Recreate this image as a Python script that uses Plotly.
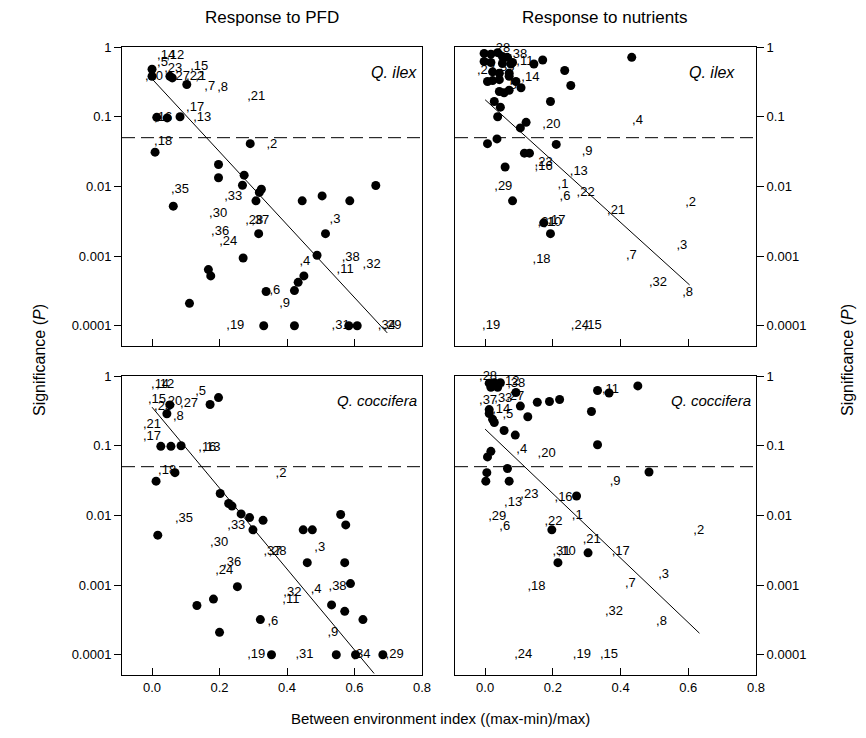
import plotly.graph_objects as go

# ---------------- data ----------------
# Panel 1: Response to PFD, Q. ilex
p1_dot_x = [0.0, 0.0, 0.053, 0.06, 0.103, 0.014, 0.045, 0.083, 0.009, 0.291, 0.197, 0.197, 0.273, 0.268, 0.324,
            0.318, 0.308, 0.063, 0.316, 0.27, 0.167, 0.174, 0.111, 0.338, 0.331, 0.663, 0.445, 0.504, 0.586, 0.514,
            0.489, 0.45, 0.433, 0.422, 0.422, 0.583, 0.608]
p1_dot_p = [0.48, 0.38, 0.38, 0.36, 0.29, 0.098, 0.096, 0.1, 0.031, 0.041, 0.0206, 0.0133, 0.0145, 0.0104, 0.0091,
            0.0082, 0.0062, 0.0052, 0.0021, 0.00094, 0.00064, 0.00052, 0.00021, 0.00031, 0.0001, 0.0103, 0.0062,
            0.0073, 0.0062, 0.0021, 0.00103, 0.00052, 0.00042, 0.00032, 0.0001, 0.0001, 0.0001]
p1_lab_txt = [",14", ",12", ",5", ",23", ",10", ",27", ",22", ",1", ",15", ",7", ",8", ",21", ",17", ",13", ",16",
              ",18", ",2", ",35", ",33", ",30", ",28", ",37", ",36", ",24", ",6", ",19", ",3", ",38", ",11", ",32",
              ",4", ",9", ",31", ",34", ",29"]
p1_lab_x = [0.015, 0.042, 0.015, 0.036, -0.021, 0.059, 0.101, 0.128, 0.113, 0.155, 0.193, 0.282, 0.101, 0.122, 0.006,
            0.006, 0.339, 0.056, 0.214, 0.169, 0.276, 0.294, 0.175, 0.199, 0.348, 0.22, 0.526, 0.562, 0.547, 0.624,
            0.437, 0.377, 0.532, 0.669, 0.686]
p1_lab_p = [0.74, 0.74, 0.59, 0.48, 0.37, 0.37, 0.37, 0.37, 0.52, 0.268, 0.26, 0.193, 0.134, 0.097, 0.097,
            0.044, 0.04, 0.0091, 0.0072, 0.0041, 0.0032, 0.0032, 0.0022, 0.0016, 0.00032, 0.0001, 0.0033, 0.00094,
            0.00063, 0.00075, 0.00083, 0.00021, 0.0001, 0.0001, 0.0001]
p1_fit_x = [0.0, 0.697]
p1_fit_p = [0.349, 0.000079]

# Panel 2: Response to nutrients, Q. ilex
p2_dot_x = [-0.003, 0.017, 0.037, 0.051, 0.066, 0.081, -0.003, 0.017, 0.051, 0.076, 0.022, 0.042, 0.071, 0.007,
            0.022, 0.042, 0.071, 0.091, 0.106, 0.042, 0.056, 0.071, 0.027, 0.045, 0.037, 0.144, 0.170, 0.235,
            0.253, 0.193, 0.121, 0.104, 0.007, 0.035, 0.21, 0.116, 0.131, 0.059, 0.433, 0.081, 0.173, 0.193]
p2_dot_p = [0.81, 0.79, 0.83, 0.73, 0.71, 0.60, 0.62, 0.60, 0.58, 0.57, 0.44, 0.42, 0.42, 0.32, 0.33, 0.34, 0.38,
            0.32, 0.26, 0.23, 0.22, 0.24, 0.165, 0.137, 0.1, 0.57, 0.65, 0.46, 0.28, 0.165, 0.083, 0.069, 0.041,
            0.048, 0.04, 0.030, 0.030, 0.019, 0.71, 0.0062, 0.0030, 0.0021]
p2_lab_txt = [",28", ",38", ",11", ",27", ",35", ",14", ",5", ",20", ",9", ",23", ",16", ",13", ",29", ",1", ",6",
              ",22", ",21", ",31", ",10", ",17", ",18", ",19", ",24", ",15", ",4", ",2", ",3", ",7", ",32", ",8"]
p2_lab_x = [0.021, 0.071, 0.092, -0.024, 0.033, 0.107, 0.062, 0.169, 0.285, 0.146, 0.146, 0.25, 0.027, 0.214, 0.22,
            0.27, 0.36, 0.155, 0.172, 0.184, 0.14, -0.009, 0.253, 0.291, 0.434, 0.591, 0.565, 0.416, 0.484, 0.582]
p2_lab_p = [0.94, 0.77, 0.61, 0.45, 0.5, 0.36, 0.28, 0.077, 0.031, 0.022, 0.019, 0.016, 0.01, 0.0107, 0.0072,
            0.0082, 0.0045, 0.003, 0.003, 0.0032, 0.0009, 0.0001, 0.0001, 0.0001, 0.088, 0.0059, 0.0014, 0.001,
            0.00041, 0.0003]
p2_fit_x = [0.0, 0.604]
p2_fit_p = [0.175, 0.000385]

# Panel 3: Response to PFD, Q. coccifera
p3_dot_x = [0.197, 0.172, 0.053, 0.044, 0.026, 0.056, 0.086, 0.012, 0.068, 0.202, 0.227, 0.237, 0.264, 0.289,
            0.329, 0.299, 0.017, 0.448, 0.475, 0.559, 0.574, 0.46, 0.571, 0.588, 0.253, 0.182, 0.133, 0.532,
            0.571, 0.625, 0.321, 0.2, 0.354, 0.546, 0.603, 0.684]
p3_dot_p = [0.49, 0.39, 0.385, 0.287, 0.098, 0.098, 0.1, 0.031, 0.041, 0.0206, 0.0148, 0.0136, 0.0105, 0.0093,
            0.0085, 0.0062, 0.0052, 0.0062, 0.0062, 0.0103, 0.0073, 0.0021, 0.0021, 0.00105, 0.00095, 0.00063,
            0.00051, 0.00052, 0.00042, 0.00032, 0.00032, 0.00021, 0.0001, 0.0001, 0.0001, 0.0001]
p3_lab_txt = [",14", ",12", ",15", ",20", ",27", ",23", ",5", ",8", ",21", ",17", ",16", ",13", ",18", ",2", ",35",
              ",33", ",30", ",37", ",28", ",3", ",36", ",24", ",32", ",11", ",4", ",38", ",6", ",9", ",19", ",31",
              ",34", ",29"]
p3_lab_x = [-0.003, 0.012, -0.012, 0.036, 0.083, 0.006, 0.128, 0.062, -0.027, -0.027, 0.137, 0.149, 0.018, 0.366,
            0.068, 0.223, 0.172, 0.33, 0.345, 0.481, 0.211, 0.187, 0.389, 0.386, 0.47, 0.523, 0.342, 0.52, 0.282,
            0.425, 0.594, 0.692]
p3_lab_p = [0.74, 0.74, 0.45, 0.425, 0.4, 0.36, 0.59, 0.26, 0.2, 0.134, 0.094, 0.094, 0.044, 0.04, 0.0091, 0.0072,
            0.0041, 0.003, 0.003, 0.0034, 0.0021, 0.0016, 0.00078, 0.00062, 0.00085, 0.00094, 0.0003, 0.00021,
            0.0001, 0.0001, 0.0001, 0.0001]
p3_fit_x = [0.0, 0.658]
p3_fit_p = [0.357, 0.000054]

# Panel 4: Response to nutrients, Q. coccifera
p4_dot_x = [0.012, 0.027, 0.045, 0.017, 0.037, 0.091, 0.012, 0.012, 0.022, 0.027, 0.104, 0.126, 0.154, 0.19, 0.22,
            0.056, 0.089, 0.017, 0.007, 0.066, 0.005, 0.002, 0.071, 0.27, 0.332, 0.366, 0.451, 0.314, 0.332,
            0.197, 0.215, 0.304, 0.484]
p4_dot_p = [0.79, 0.80, 0.80, 0.69, 0.69, 0.58, 0.33, 0.29, 0.24, 0.215, 0.37, 0.26, 0.42, 0.43, 0.46, 0.165,
            0.142, 0.083, 0.069, 0.047, 0.041, 0.031, 0.031, 0.019, 0.62, 0.57, 0.72, 0.31, 0.103, 0.0062,
            0.0021, 0.0029, 0.042]
p4_lab_txt = [",28", ",12", ",38", ",37", ",33", ",27", ",14", ",5", ",4", ",20", ",9", ",13", ",23", ",16", ",11",
              ",29", ",6", ",22", ",1", ",21", ",31", ",10", ",17", ",3", ",7", ",18", ",32", ",8", ",24", ",19",
              ",15", ",2"]
p4_lab_x = [-0.018, 0.048, 0.065, -0.018, 0.027, 0.062, 0.021, 0.051, 0.092, 0.155, 0.368, 0.056, 0.104, 0.205,
            0.345, 0.009, 0.042, 0.175, 0.256, 0.288, 0.199, 0.214, 0.374, 0.511, 0.413, 0.125, 0.354, 0.505,
            0.086, 0.259, 0.339, 0.615]
p4_lab_p = [0.97, 0.82, 0.77, 0.44, 0.47, 0.5, 0.33, 0.28, 0.088, 0.077, 0.03, 0.015, 0.02, 0.018, 0.63, 0.0096,
            0.0069, 0.0082, 0.01, 0.0045, 0.003, 0.003, 0.003, 0.0014, 0.00103, 0.00094, 0.00041, 0.0003, 0.0001,
            0.0001, 0.0001, 0.0061]
p4_fit_x = [0.0, 0.633]
p4_fit_p = [0.173, 0.000204]

x_ticks = [0, 0.2, 0.4, 0.6, 0.8]
x_ticktext = ["0.0", "0.2", "0.4", "0.6", "0.8"]
y_ticks = [1, 0.1, 0.01, 0.001, 0.0001]
y_ticktext = ["1", "0.1", "0.01", "0.001", "0.0001"]
sig_level = 0.05

column_titles = ["Response to PFD", "Response to nutrients"]
species = ["Q. ilex", "Q. coccifera"]

# ---------------- figure ----------------
FONT = "Liberation Sans, Arial, Helvetica, sans-serif"
W, H = 866, 738
OFF = 8  # page body margin offset of the plot div


def fx_(px):
    return (px - OFF) / W


def fy_(py):
    return 1 - (py - OFF) / H


fig = go.Figure()

panels = [
    (p1_dot_x, p1_dot_p, p1_lab_x, p1_lab_p, p1_lab_txt, p1_fit_x, p1_fit_p),
    (p2_dot_x, p2_dot_p, p2_lab_x, p2_lab_p, p2_lab_txt, p2_fit_x, p2_fit_p),
    (p3_dot_x, p3_dot_p, p3_lab_x, p3_lab_p, p3_lab_txt, p3_fit_x, p3_fit_p),
    (p4_dot_x, p4_dot_p, p4_lab_x, p4_lab_p, p4_lab_txt, p4_fit_x, p4_fit_p),
]

for i, (dx, dp, lx, lp, lt, fx, fp) in enumerate(panels):
    xa = "x" if i == 0 else f"x{i+1}"
    ya = "y" if i == 0 else f"y{i+1}"
    fig.add_trace(go.Scatter(x=lx, y=lp, mode="text", text=lt, textposition="middle right",
                             textfont=dict(family=FONT, size=13, color="black"),
                             xaxis=xa, yaxis=ya, showlegend=False, hoverinfo="skip", cliponaxis=False))
    fig.add_trace(go.Scatter(x=fx, y=fp, mode="lines", line=dict(color="black", width=1),
                             xaxis=xa, yaxis=ya, showlegend=False, hoverinfo="skip"))
    fig.add_trace(go.Scatter(x=dx, y=dp, mode="markers", marker=dict(color="black", size=9),
                             xaxis=xa, yaxis=ya, showlegend=False, hoverinfo="skip"))
    # significance threshold
    fig.add_shape(type="line", xref=f"{xa} domain", yref=ya, x0=0, x1=1, y0=sig_level, y1=sig_level,
                  line=dict(color="black", width=1, dash="13px,6px"))

xdom_l = [fx_(122), fx_(422)]
xdom_r = [fx_(455), fx_(756)]
ydom_t = [fy_(346), fy_(47)]
ydom_b = [fy_(675), fy_(376)]


def xaxis(dom, anchor, labels):
    return dict(domain=dom, anchor=anchor, range=[-0.089, 0.8], tickvals=x_ticks, ticktext=x_ticktext,
                showticklabels=labels, ticks="inside", ticklen=7, tickcolor="black", showline=True,
                linecolor="black", linewidth=1, mirror=True, showgrid=False, zeroline=False, automargin=False,
                tickfont=dict(family=FONT, size=13, color="black"))


def yaxis(dom, anchor, side):
    return dict(domain=dom, anchor=anchor, type="log", range=[-4.29, 0], tickvals=y_ticks, ticktext=y_ticktext,
                side=side, ticks="outside", ticklen=7, tickcolor="black", showline=True, linecolor="black",
                linewidth=1, mirror=True, showgrid=False, zeroline=False, automargin=False,
                tickfont=dict(family=FONT, size=13, color="black"))


fig.update_layout(
    width=W, height=H, margin=dict(l=0, r=0, t=0, b=0, autoexpand=False),
    paper_bgcolor="white", plot_bgcolor="white",
    xaxis=xaxis(xdom_l, "y", False), yaxis=yaxis(ydom_t, "x", "left"),
    xaxis2=xaxis(xdom_r, "y2", False), yaxis2=yaxis(ydom_t, "x2", "right"),
    xaxis3=xaxis(xdom_l, "y3", True), yaxis3=yaxis(ydom_b, "x3", "left"),
    xaxis4=xaxis(xdom_r, "y4", True), yaxis4=yaxis(ydom_b, "x4", "right"),
    showlegend=False,
)

ann = []


def A(text, x, y, size, xanchor="center", **kw):
    d = dict(text=text, x=x, y=y, xref="paper", yref="paper", showarrow=False, xanchor=xanchor,
             yanchor="middle", font=dict(family=FONT, size=size, color="black"))
    d.update(kw)
    ann.append(d)


A(column_titles[0], fx_(272), fy_(17), 17)
A(column_titles[1], fx_(604), fy_(17), 17)
A("Between environment index ((max-min)/max)", fx_(440), fy_(718), 15)
A("Significance (<i>P</i>)", fx_(40), fy_(360), 16, textangle=-90)
A("Significance (<i>P</i>)", fx_(848), fy_(360), 16, textangle=-90)
A(f"<i>{species[0]}</i>", fx_(419), fy_(72), 16, xanchor="right")
A(f"<i>{species[0]}</i>", fx_(737), fy_(72), 16, xanchor="right")
A(f"<i>{species[1]}</i>", fx_(419), fy_(400), 15, xanchor="right")
A(f"<i>{species[1]}</i>", fx_(753), fy_(400), 15, xanchor="right")
fig.update_layout(annotations=ann)

fig.write_html("out.html")
